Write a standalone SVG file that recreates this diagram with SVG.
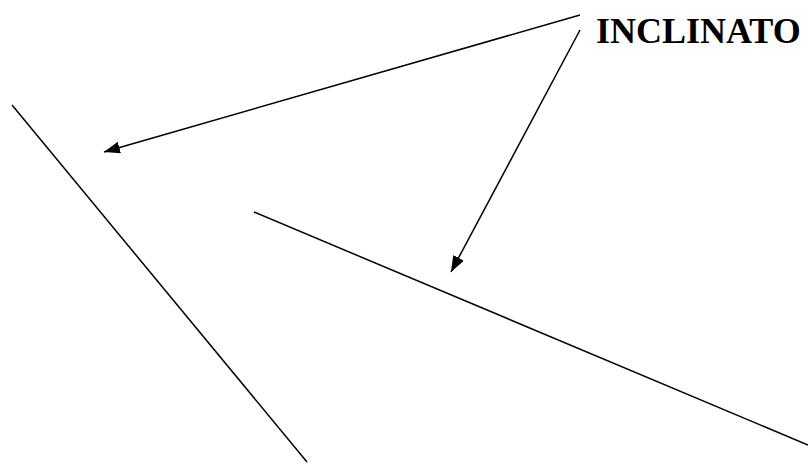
<svg xmlns="http://www.w3.org/2000/svg" width="808" height="471" viewBox="0 0 808 471">
<defs>
<style>
.ln{stroke:#000;stroke-width:1.5;fill:none}
.lbl{font-family:"Liberation Serif","Times New Roman",serif;font-weight:bold;font-size:36px;fill:#000}
</style>
<marker id="ah" viewBox="0 0 16 12" refX="16" refY="6" markerWidth="16" markerHeight="12" markerUnits="userSpaceOnUse" orient="auto">
<path d="M0,0 L16,6 L0,12 Z" fill="#000"/>
</marker>
</defs>
<g id="line-a"><line class="ln" x1="12" y1="105" x2="307" y2="462"/></g>
<g id="line-b"><line class="ln" x1="254" y1="212" x2="808" y2="445"/></g>
<g id="label"><text class="lbl" x="596" y="43">INCLINATO</text></g>
<g id="connectors">
<line class="ln" x1="580" y1="15" x2="104" y2="152" marker-end="url(#ah)"/>
<line class="ln" x1="580" y1="30" x2="451" y2="272" marker-end="url(#ah)"/>
</g>
</svg>
